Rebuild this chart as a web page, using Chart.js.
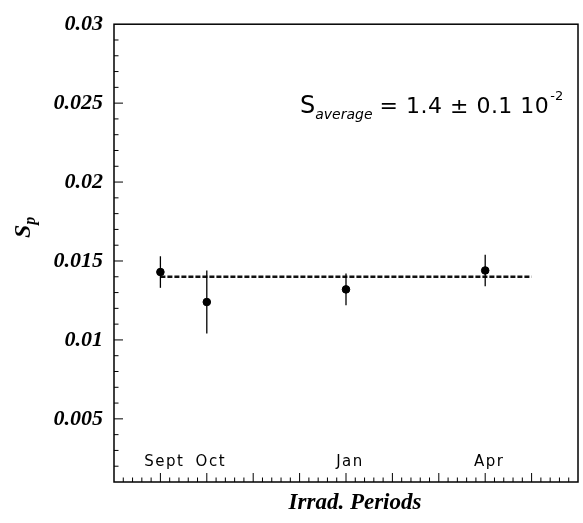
<!DOCTYPE html>
<html>
<head>
<meta charset="utf-8">
<script src="https://cdn.jsdelivr.net/npm/chart.js@4/dist/chart.umd.min.js"></script>
<style>
  html, body { margin: 0; padding: 0; background: #fff; }
  #wrap { width: 583px; height: 523px; position: relative; }
</style>
</head>
<body>
<div id="wrap"><canvas id="c"></canvas></div>
<script>
// datos
const periods = ['Sept', 'Oct', 'Jan', 'Apr'];
const periodX = [1, 2, 5, 8];
const spValues = [0.0143, 0.0124, 0.0132, 0.0144];
const spErrors = [0.001, 0.002, 0.001, 0.001];
const avgValue = 0.014;
const avgRange = [1, 9];
const yMajorLabels = [0.005, 0.01, 0.015, 0.02, 0.025, 0.03];

const serif = "'Liberation Serif', 'DejaVu Serif', serif";
const sans = "'DejaVu Sans', 'Liberation Sans', sans-serif";

// plugin para marco, ticks internos, barras de error y textos
const decoraciones = {
    id: 'decoraciones',
    afterDraw(chart) {
        const ctx = chart.ctx;
        const area = chart.chartArea;
        const xs = chart.scales.x;
        const ys = chart.scales.y;
        ctx.save();
        ctx.strokeStyle = '#000';

        // barras de error
        ctx.lineWidth = 1.3;
        spValues.forEach((v, i) => {
            const px = xs.getPixelForValue(periodX[i]);
            ctx.beginPath();
            ctx.moveTo(px, ys.getPixelForValue(v + spErrors[i]));
            ctx.lineTo(px, ys.getPixelForValue(v - spErrors[i]));
            ctx.stroke();
        });

        // marco
        ctx.lineWidth = 1.5;
        ctx.strokeRect(area.left, area.top, area.right - area.left, area.bottom - area.top);

        // ticks eje X (hacia adentro)
        ctx.lineWidth = 1;
        for (let i = 1; i < 50; i++) {
            const px = xs.getPixelForValue(i * 0.2);
            const len = i % 5 === 0 ? 9 : 4.5;
            ctx.beginPath();
            ctx.moveTo(px, area.bottom);
            ctx.lineTo(px, area.bottom - len);
            ctx.stroke();
        }
        // ticks eje Y
        for (let i = 2; i < 30; i++) {
            const py = ys.getPixelForValue(i * 0.001);
            const len = i % 5 === 0 ? 9 : 4.5;
            ctx.beginPath();
            ctx.moveTo(area.left, py);
            ctx.lineTo(area.left + len, py);
            ctx.stroke();
        }

        // nombres de periodos
        ctx.fillStyle = '#000';
        ctx.font = '15px ' + sans;
        ctx.textAlign = 'center';
        ctx.textBaseline = 'alphabetic';
        ctx.letterSpacing = '1.5px';
        periods.forEach((p, i) => {
            ctx.fillText(p, xs.getPixelForValue(periodX[i]) + 4, 466);
        });
        ctx.letterSpacing = '0px';

        // anotacion S_average
        ctx.textAlign = 'left';
        let x = 300;
        ctx.font = '24px ' + sans;
        ctx.fillText('S', x, 113);
        x += ctx.measureText('S').width;
        ctx.font = 'italic 14px ' + sans;
        ctx.fillText('average', x, 119);
        x += ctx.measureText('average').width + 7;
        ctx.font = '22px ' + sans;
        ctx.letterSpacing = '0.5px';
        const txt = '= 1.4 \u00b1 0.1 10';
        ctx.fillText(txt, x, 113);
        x += ctx.measureText(txt).width + 1;
        ctx.letterSpacing = '0px';
        ctx.font = '13px ' + sans;
        ctx.fillText('-2', x, 100);

        // titulo eje X
        ctx.textAlign = 'center';
        ctx.font = 'italic bold 23px ' + serif;
        ctx.fillText('Irrad. Periods', 355, 509);

        // titulo eje Y (S_p rotado)
        ctx.translate(30, 238);
        ctx.rotate(-Math.PI / 2);
        ctx.textAlign = 'left';
        ctx.font = 'italic bold 24px ' + serif;
        ctx.fillText('S', 0, 0);
        const sw = ctx.measureText('S').width;
        ctx.font = 'italic bold 16px ' + serif;
        ctx.fillText('p', sw, 5);
        ctx.restore();
    }
};

const ctx = document.getElementById('c').getContext('2d');
new Chart(ctx, {
    type: 'scatter',
    data: {
        datasets: [
            {
                type: 'line',
                data: avgRange.map(x => ({ x: x, y: avgValue })),
                borderColor: '#111',
                borderWidth: 2.5,
                borderDash: [5, 2],
                pointRadius: 0,
                fill: false
            },
            {
                data: periodX.map((x, i) => ({ x: x, y: spValues[i] })),
                backgroundColor: '#000',
                borderColor: '#000',
                pointRadius: 3.8
            }
        ]
    },
    options: {
        responsive: true,
        maintainAspectRatio: false,
        animation: false,
        layout: { padding: { top: 16, right: 3, left: 0, bottom: 0 } },
        plugins: {
            legend: { display: false },
            tooltip: { enabled: false }
        },
        scales: {
            x: {
                type: 'linear',
                min: 0,
                max: 10,
                grid: { display: false },
                border: { display: false },
                ticks: { display: false },
                afterFit: (s) => { s.height = 41; }
            },
            y: {
                min: 0.001,
                max: 0.03,
                grid: { display: false, drawTicks: false },
                border: { display: false },
                ticks: {
                    stepSize: 0.001,
                    autoSkip: false,
                    padding: 11,
                    color: '#000',
                    font: { family: serif, size: 22, style: 'italic', weight: 'bold' },
                    callback: (v) => {
                        const hit = yMajorLabels.find(m => Math.abs(m - v) < 1e-7);
                        return hit !== undefined ? String(hit) : null;
                    }
                },
                afterFit: (s) => { s.width = 114; }
            }
        }
    },
    plugins: [decoraciones]
});
</script>
</body>
</html>
